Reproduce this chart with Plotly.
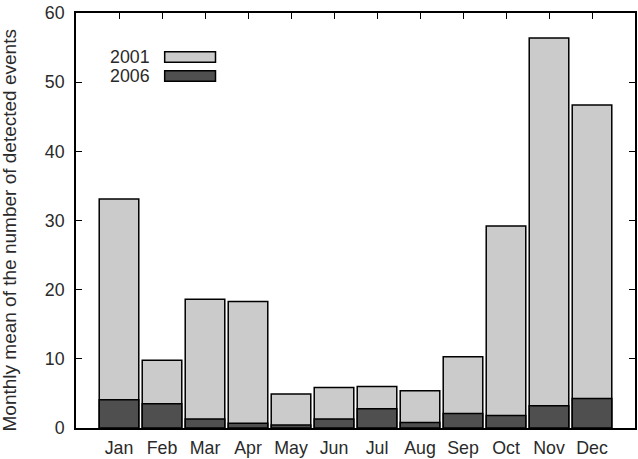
import plotly.graph_objects as go

months = ["Jan", "Feb", "Mar", "Apr", "May", "Jun", "Jul", "Aug", "Sep", "Oct", "Nov", "Dec"]
vals_2001 = [33.1, 9.8, 18.6, 18.3, 4.9, 5.85, 6.0, 5.4, 10.3, 29.2, 56.4, 46.7]
vals_2006 = [4.1, 3.5, 1.3, 0.7, 0.45, 1.3, 2.8, 0.8, 2.1, 1.8, 3.2, 4.25]
series_names = ["2001", "2006"]
y_ticks = [0, 10, 20, 30, 40, 50, 60]

light = "#cbcbcb"
dark = "#4f4f4f"
font_family = "Liberation Sans, Arial, sans-serif"
fs = 17.8
text_col = "#2a2a2a"

xpos = list(range(1, len(months) + 1))

fig = go.Figure()
fig.add_trace(go.Bar(x=xpos, y=vals_2001, width=0.92, name=series_names[0],
                     marker=dict(color=light, line=dict(color="black", width=1.5))))
fig.add_trace(go.Bar(x=xpos, y=vals_2006, width=0.92, name=series_names[1],
                     marker=dict(color=dark, line=dict(color="black", width=1.5))))

fig.update_layout(
    width=638, height=459,
    margin=dict(l=76, r=1, t=13, b=31),
    barmode="overlay",
    showlegend=False,
    plot_bgcolor="white", paper_bgcolor="white",
    font=dict(family=font_family, size=fs, color=text_col),
)
fig.update_xaxes(range=[0, 13], tickvals=xpos, ticktext=months,
                 ticks="inside", ticklen=6, tickcolor="black", tickwidth=1.2,
                 showline=True, linecolor="black", linewidth=1.8, mirror="ticks",
                 showgrid=False, zeroline=False, layer="below traces",
                 ticklabelstandoff=3)
fig.update_yaxes(range=[0, 60], tickvals=y_ticks,
                 ticks="inside", ticklen=6, tickcolor="black", tickwidth=1.2,
                 showline=True, linecolor="black", linewidth=1.8, mirror="ticks",
                 showgrid=False, zeroline=False, ticklabelstandoff=6)

# y-axis title
fig.add_annotation(text="Monthly mean of the number of detected events",
                   xref="paper", yref="paper", x=0, y=0.5, xanchor="center", yanchor="middle",
                   xshift=-67, yshift=-10, textangle=-90, showarrow=False,
                   font=dict(family=font_family, size=19, color=text_col))

# manual gnuplot-style legend (text left, swatch right)
legend_rows = [(series_names[0], light, 57), (series_names[1], dark, 76)]
for name, col, yc in legend_rows:
    yp = 1 - (yc - 13) / (459 - 13 - 31)
    fig.add_annotation(text=name, xref="paper", yref="paper",
                       x=(152 - 76) / (637 - 76), y=yp, xanchor="right", yanchor="middle",
                       showarrow=False, font=dict(family=font_family, size=fs, color=text_col))
    fig.add_shape(type="rect", xref="paper", yref="paper",
                  x0=(165 - 76) / (637 - 76), x1=(216 - 76) / (637 - 76),
                  y0=yp - 5.3 / 415, y1=yp + 5.3 / 415,
                  fillcolor=col, line=dict(color="black", width=1.5))

fig.write_html("out.html")
